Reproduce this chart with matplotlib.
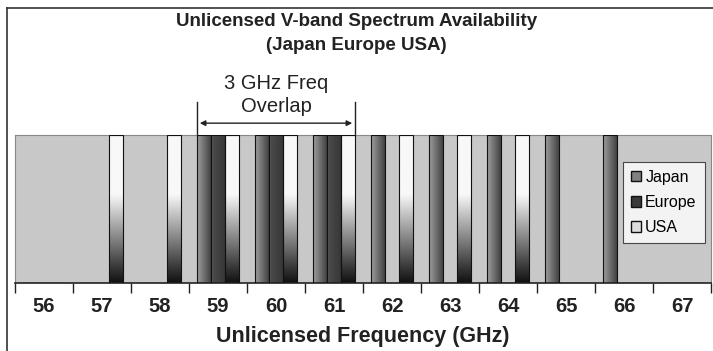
import numpy as np
import matplotlib
matplotlib.use("Agg")
import matplotlib.pyplot as plt
from matplotlib.lines import Line2D
from matplotlib.patches import Patch

plt.rcParams['font.family'] = ['Liberation Sans', 'DejaVu Sans']

# data (1 = band available)
freqs = [56, 57, 58, 59, 60, 61, 62, 63, 64, 65, 66, 67]
japan = [0, 0, 0, 1, 1, 1, 1, 1, 1, 1, 1, 0]
europe = [0, 0, 0, 1, 1, 1, 0, 0, 0, 0, 0, 0]
usa = [0, 1, 1, 1, 1, 1, 1, 1, 1, 0, 0, 0]
series = ['Japan', 'Europe', 'USA']

fig = plt.figure(figsize=(7.13, 3.51), dpi=100)
ax = fig.add_axes([15/713, 1-283/351, 696/713, 148/351])
ax.set_facecolor('#c8c8c8')

x = np.arange(len(freqs))
w = 14/58

# gradients for each series
h = np.linspace(0, 1, 64)
grad_japan = np.tile(0.62 - 0.36*h, (2, 1))
grad_europe = np.tile(np.where(h < 0.15, 0.38 - 0.4*h, 0.3 - 0.08*h), (2, 1))
v = np.linspace(0, 1, 64)
usa_col = np.where(v < 0.4, 0.97, 0.97 - (v-0.4)/0.6*0.9)
grad_usa = np.tile(usa_col[:, None], (1, 2))
grads = [grad_japan, grad_europe, grad_usa]

for k, vals in enumerate([japan, europe, usa]):
    bars = ax.bar(x + (k-1)*w, vals, width=w, facecolor='none',
                  edgecolor='#111111', linewidth=0.8, zorder=3)
    for b in bars:
        if b.get_height() == 0:
            continue
        x0 = b.get_x()
        im = ax.imshow(grads[k], cmap='gray', vmin=0, vmax=1, aspect='auto',
                       extent=[x0, x0 + b.get_width(), 0, b.get_height()],
                       origin='upper', zorder=2, interpolation='bilinear')
        im.set_clip_path(b)

ax.set_xlim(-0.5, len(freqs) - 0.5)
ax.set_ylim(0, 1)
ax.set_yticks([])
ax.set_xticks(np.arange(len(freqs) + 1) - 0.5)
ax.set_xticklabels([])
ax.tick_params(axis='x', which='major', length=7, width=1, color='#222222')
ax.set_xticks(x, minor=True)
ax.set_xticklabels([str(f) for f in freqs], minor=True, fontsize=14.5,
                   fontweight='bold', color='#222222')
ax.tick_params(axis='x', which='minor', length=0, pad=10)
ax.set_xlabel('Unlicensed Frequency (GHz)', fontsize=15.5, fontweight='bold',
              color='#222222', labelpad=7)
for s in ['top', 'left', 'right']:
    ax.spines[s].set_color('#888888')
ax.spines['bottom'].set_color('#222222')
ax.spines['bottom'].set_linewidth(1.2)

handles = [Patch(facecolor=c, edgecolor='#111111') for c in ['#808080', '#3a3a3a', '#dddddd']]
leg = ax.legend(handles, series, loc='upper right', bbox_to_anchor=(0.991, 0.82),
                fontsize=11.5, frameon=True, fancybox=False, handlelength=0.65,
                handleheight=0.65, handletextpad=0.25, labelspacing=0.65,
                borderpad=0.5, borderaxespad=0, edgecolor='#222222')
leg.get_frame().set_linewidth(0.8)

fig.text(0.5, 1-22/351, 'Unlicensed V-band Spectrum Availability', ha='center',
         va='center', fontsize=13.5, fontweight='bold', color='#222222')
fig.text(0.5, 1-45/351, '(Japan Europe USA)', ha='center', va='center',
         fontsize=13.5, fontweight='bold', color='#222222')

# overlap annotation spanning 59-61
xl, xr = 3 - 1.5*w, 5 + 1.5*w
ax.annotate('', xy=(xl, 1.08), xytext=(xr, 1.08), xycoords='data',
            arrowprops=dict(arrowstyle='<|-|>', color='#222222', lw=1,
                            mutation_scale=8), annotation_clip=False)
for xv in [xl, xr]:
    ax.plot([xv, xv], [1.0, 1.22], color='#222222', lw=1, clip_on=False)
ax.text((xl + xr)/2, 1.35, '3 GHz Freq', ha='center', va='center', fontsize=14.5,
        color='#222222', clip_on=False)
ax.text((xl + xr)/2, 1.195, 'Overlap', ha='center', va='center', fontsize=14.5,
        color='#222222', clip_on=False)

# chart-area border
fig.add_artist(Line2D([7/713, 7/713], [0, 1-8/351], color='#333333', lw=1.2))
fig.add_artist(Line2D([7/713, 1], [1-8/351, 1-8/351], color='#333333', lw=1.2))

fig.savefig('out.png', dpi=100)
